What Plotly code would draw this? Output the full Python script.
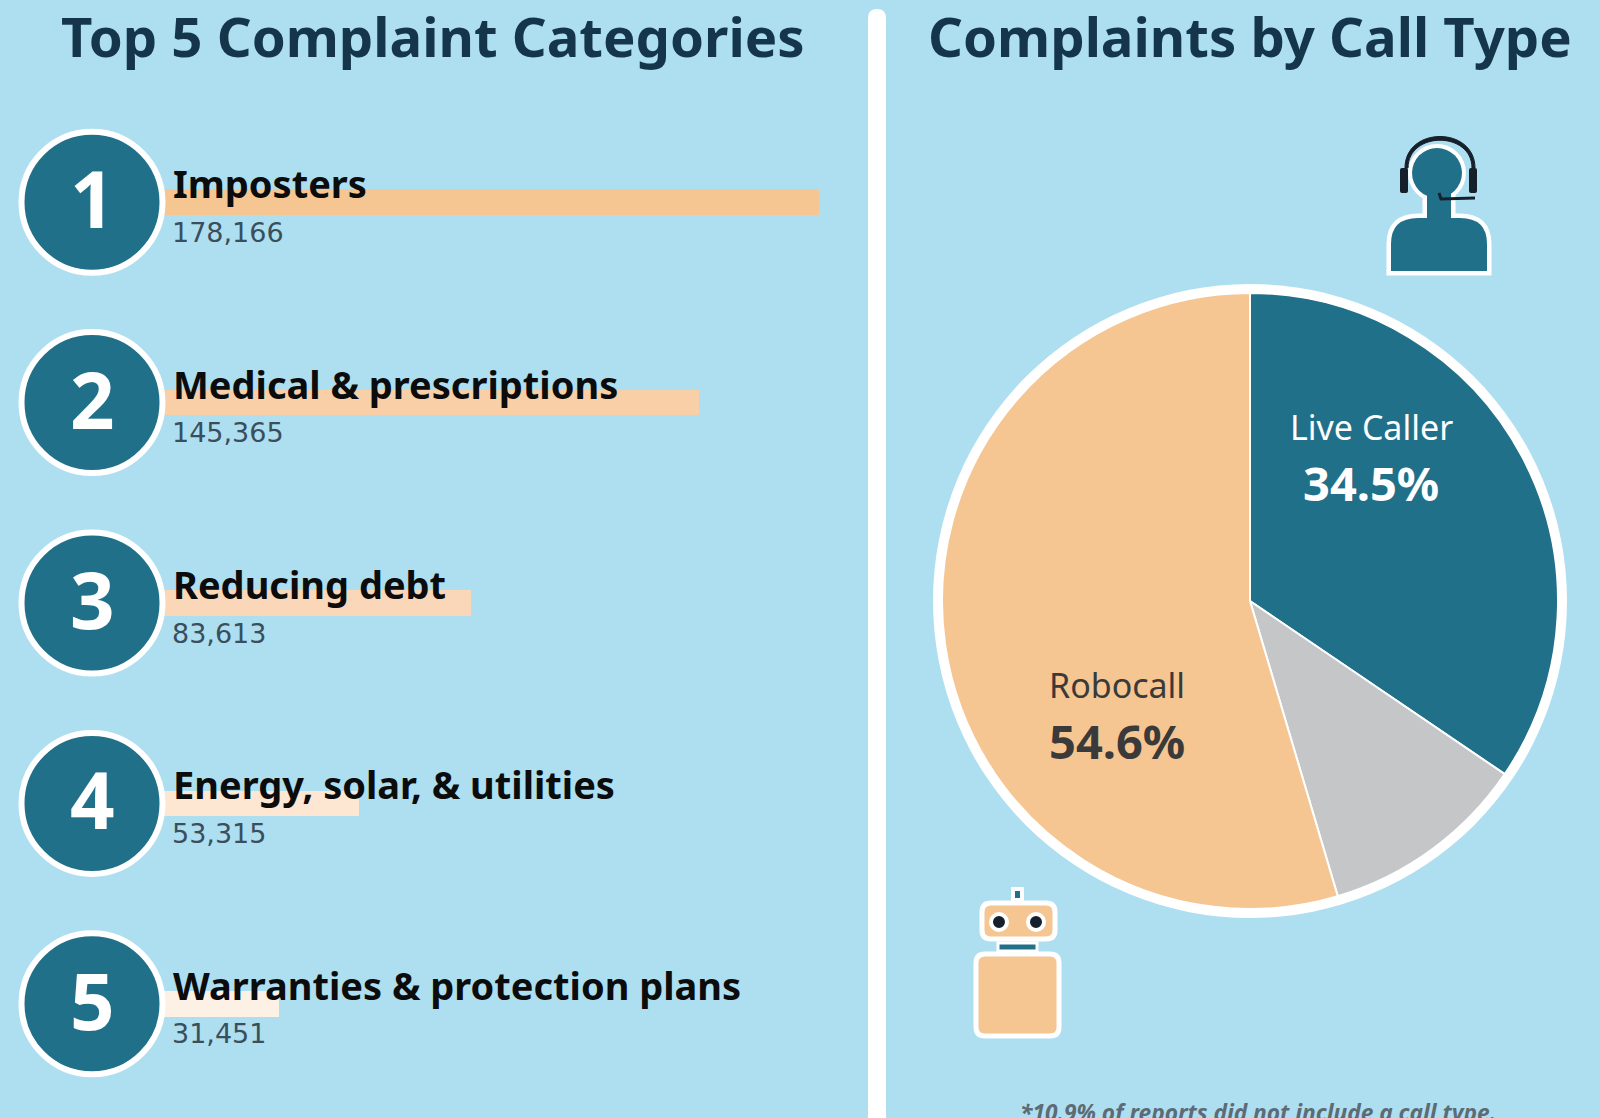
import plotly.graph_objects as go

# left panel
ranks = ["1", "2", "3", "4", "5"]
categories = ["Imposters", "Medical & prescriptions", "Reducing debt",
              "Energy, solar, & utilities", "Warranties & protection plans"]
complaints = [178166, 145365, 83613, 53315, 31451]

# right panel
call_types = ["Live Caller", "No call type", "Robocall"]
call_shares = [34.5, 10.9, 54.6]

BG = "#aedff0"
TEAL = "#21708a"
ORANGE = "#f5c592"
GREY = "#c5c6c8"
DARK = "#15364a"
INK = "#15202b"
bar_colors = ["#f5c592", "#f8cfa6", "#fad7b9", "#fde6d2", "#fdf1e6"]
W, H = 1600, 1118
FONT = "Noto Sans"
PX_PER_UNIT = 0.003686
ZERO_PX = 162.7
BADGE_X = (92 - ZERO_PX) / PX_PER_UNIT
LABEL_X = (171 - ZERO_PX) / PX_PER_UNIT
VALUE_X = (170 - ZERO_PX) / PX_PER_UNIT

fig = go.Figure()

fig.add_trace(go.Bar(x=complaints, y=categories, orientation="h", width=0.128,
                     marker=dict(color=bar_colors, line=dict(width=0)),
                     hoverinfo="x+y", showlegend=False))

# rank badges, same rows as the bars
fig.add_trace(go.Scatter(x=[BADGE_X] * len(ranks), y=categories, mode="markers",
                         marker=dict(size=141, color=TEAL, line=dict(color="white", width=6)),
                         cliponaxis=False, hoverinfo="skip", showlegend=False))

fig.add_trace(go.Pie(labels=call_types, values=call_shares, sort=False, direction="clockwise",
                     rotation=0, textinfo="none", showlegend=False,
                     marker=dict(colors=[TEAL, GREY, ORANGE], line=dict(color="white", width=2)),
                     domain=dict(x=[(1250 - 308) / W, (1250 + 308) / W],
                                 y=[1 - (601 + 308) / H, 1 - (601 - 308) / H])))

# empty trace so the pixel axes for the decorations exist
fig.add_trace(go.Scatter(x=[], y=[], xaxis="x2", yaxis="y2", showlegend=False))


def px_path(d, fill, line="white", width=0, layer="above"):
    fig.add_shape(type="path", path=d, xref="x2", yref="y2", fillcolor=fill,
                  line=dict(color=line, width=width), layer=layer)


def px_round_rect(x0, y0, x1, y1, r, fill, line="white", width=5):
    d = (f"M{x0+r},{y0} L{x1-r},{y0} Q{x1},{y0} {x1},{y0+r} L{x1},{y1-r} Q{x1},{y1} {x1-r},{y1} "
         f"L{x0+r},{y1} Q{x0},{y1} {x0},{y1-r} L{x0},{y0+r} Q{x0},{y0} {x0+r},{y0} Z")
    px_path(d, fill, line, width)


def px_circle(cx, cy, r, fill, line="white", width=0, layer="above"):
    fig.add_shape(type="circle", xref="x2", yref="y2", x0=cx - r, x1=cx + r, y0=cy - r, y1=cy + r,
                  fillcolor=fill, line=dict(color=line, width=width), layer=layer)


# divider
px_round_rect(868, 9, 886, 1140, 9, "white", width=0)

# white ring behind the pie
px_circle(1250, 601, 317, "white", layer="below")

# headset agent: halo first, then the fills on top so head and neck merge
AGENT = ("M1391,271 L1391,244 Q1391,218 1418,218 L1427,218 L1427,190 L1451,190 L1451,218 "
         "L1460,218 Q1487,218 1487,244 L1487,271 Z")
px_path(AGENT, "white", "white", 9)
px_circle(1437, 173, 25, "white", "white", 8)
px_path(AGENT, TEAL)
px_circle(1437, 173, 25, TEAL)
px_path("M1405,168 C1405,126 1475,126 1475,168 L1472,168 C1472,131 1408,131 1408,168 Z", INK, INK, 1)
px_round_rect(1400, 168, 1408, 193, 2, INK, width=0)
px_round_rect(1469, 168, 1477, 193, 2, INK, width=0)
px_path("M1439,193 L1441,199 L1475,198", "rgba(0,0,0,0)", INK, 3)

# robot
px_round_rect(1013, 889, 1022, 900, 0, TEAL, "white", 4)
px_round_rect(982, 903, 1055, 939, 9, ORANGE)
px_circle(999, 922, 8, INK, "white", 4)
px_circle(1036, 922, 8, INK, "white", 4)
px_round_rect(998, 943, 1037, 951, 0, TEAL, "white", 3)
px_round_rect(976, 954, 1059, 1036, 9, ORANGE)

# row labels
for rank, cat, n in zip(ranks, categories, complaints):
    fig.add_annotation(x=BADGE_X, y=cat, text=rank, showarrow=False, yshift=4,
                       font=dict(family="Open Sans", size=78, color="white", weight=700))
    fig.add_annotation(x=LABEL_X, y=cat, text=cat, showarrow=False, xanchor="left", yshift=19,
                       font=dict(family=FONT, size=38, color="#0c0c0c", weight=700))
    fig.add_annotation(x=VALUE_X, y=cat, text=f"{n:,}", showarrow=False, xanchor="left", yshift=-30,
                       font=dict(family="DejaVu Sans", size=27, color="#3a4e5c"))

# titles
for text, x in [("Top 5 Complaint Categories", 433), ("Complaints by Call Type", 1250)]:
    fig.add_annotation(x=x, y=36, xref="x2", yref="y2", text=text, showarrow=False,
                       font=dict(family=FONT, size=54.5, color=DARK, weight=700))

# pie labels
pie_labels = [(call_types[0], call_shares[0], 1371, 427, 483, "white"),
              (call_types[2], call_shares[2], 1117, 685, 741, "#3a3a3a")]
for name, share, x, y_name, y_share, color in pie_labels:
    fig.add_annotation(x=x, y=y_name, xref="x2", yref="y2", text=name, showarrow=False,
                       font=dict(family=FONT, size=34, color=color))
    fig.add_annotation(x=x, y=y_share, xref="x2", yref="y2", text=f"<b>{share}%</b>", showarrow=False,
                       font=dict(family=FONT, size=47, color=color))

fig.add_annotation(x=1258, y=1112, xref="x2", yref="y2", text="<b><i>*10.9% of reports did not include a call type.</i></b>",
                   showarrow=False, font=dict(family=FONT, size=22.7, color="#5c6b75"))

fig.update_layout(
    width=W, height=H, autosize=False,
    margin=dict(l=0, r=0, t=0, b=0),
    paper_bgcolor=BG, plot_bgcolor="rgba(0,0,0,0)",
    bargap=0,
    xaxis=dict(domain=[0, 868 / W], range=[-ZERO_PX / PX_PER_UNIT, (868 - ZERO_PX) / PX_PER_UNIT], visible=False),
    yaxis=dict(domain=[1 - 1104 / H, 1 - 102 / H], range=[4.5, -0.5], type="category",
               categoryorder="array", categoryarray=categories, visible=False),
    xaxis2=dict(domain=[0, 1], range=[0, W], visible=False, anchor="y2"),
    yaxis2=dict(domain=[0, 1], range=[H, 0], visible=False, anchor="x2"),
)

# page margin would shift the figure by 8px
fig.write_html("out.html", config=dict(displayModeBar=False),
               post_script="document.body.style.margin='0';document.body.style.overflow='hidden';")
